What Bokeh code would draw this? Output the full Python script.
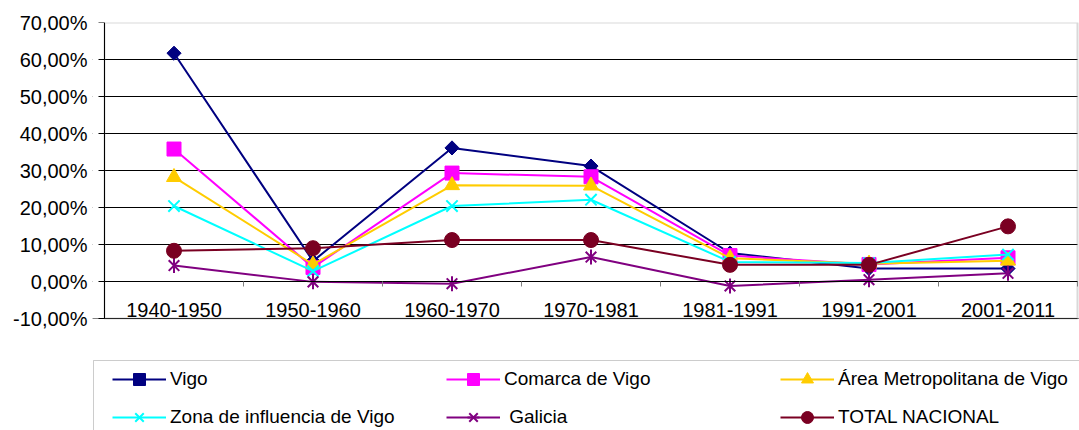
import numpy as np
from bokeh.plotting import figure
from bokeh.models import (Range1d, LinearAxis, FixedTicker, Legend, LegendItem,
                          BoxAnnotation)
from bokeh.embed import file_html
from bokeh.resources import INLINE

# ---------------- data ----------------
categories = ["1940-1950", "1950-1960", "1960-1970", "1970-1981",
              "1981-1991", "1991-2001", "2001-2011"]
vigo = [61.7, 5.5, 36.1, 31.2, 7.7, 3.5, 3.5]
comarca = [35.8, 3.8, 29.3, 28.3, 7.0, 4.6, 6.4]
area_metro = [28.2, 4.6, 26.0, 25.9, 6.3, 4.8, 5.6]
zona = [20.4, 2.8, 20.4, 22.1, 5.3, 5.0, 7.3]
galicia = [4.3, -0.1, -0.6, 6.6, -1.2, 0.5, 2.2]
total_nacional = [8.3, 9.0, 11.2, 11.2, 4.5, 4.5, 14.9]

series_names = ["Vigo", "Comarca de Vigo", "Área Metropolitana de Vigo",
                "Zona de influencia de Vigo", " Galicia", "TOTAL NACIONAL"]

y_ticks = [-10, 0, 10, 20, 30, 40, 50, 60, 70]
y_tick_labels = ["-10,00%", "0,00%", "10,00%", "20,00%", "30,00%",
                 "40,00%", "50,00%", "60,00%", "70,00%"]

FONT = "Liberation Sans"
NAVY = "#000080"
MAGENTA = "#FF00FF"
GOLD = "#FFCC00"
CYAN = "#00FFFF"
PURPLE = "#800080"
DARKRED = "#7A0022"

# ---------------- layout constants (pixels) ----------------
W, H = 1079, 430
FRAME_L, FRAME_R, FRAME_T, FRAME_B = 92, 1079, 22, 430
PLOT_L, PLOT_R, PLOT_T, PLOT_B = 104, 1077, 22, 318
Y_MIN, Y_MAX = y_ticks[0], y_ticks[-1]
N = len(categories)
XPX = (PLOT_R - PLOT_L) / N
YPX = (PLOT_B - PLOT_T) / (Y_MAX - Y_MIN)


def px_x(px):
    return (px - PLOT_L) / XPX


def px_y(py):
    return Y_MAX - (py - PLOT_T) / YPX


xs = [float(v) for v in (np.arange(N) + 0.5)]

p = figure(width=W, height=H,
           x_range=Range1d(px_x(FRAME_L), px_x(FRAME_R)),
           y_range=Range1d(px_y(FRAME_B), Y_MAX),
           output_backend="svg", toolbar_location=None,
           min_border_left=FRAME_L, min_border_right=W - FRAME_R,
           min_border_top=FRAME_T, min_border_bottom=H - FRAME_B)
p.outline_line_color = None
p.background_fill_color = "white"
p.border_fill_color = "white"

# y tick labels (left panel)
p.yaxis.ticker = FixedTicker(ticks=y_ticks)
p.yaxis.major_label_overrides = dict(zip(y_ticks, y_tick_labels))
p.yaxis.minor_tick_line_color = None
p.yaxis.major_tick_line_color = None
p.yaxis.major_tick_out = 0
p.yaxis.major_tick_in = 0
p.yaxis.axis_line_color = None
p.yaxis.major_label_standoff = PLOT_L - FRAME_L - 7
p.yaxis.major_label_text_font = FONT
p.yaxis.major_label_text_font_size = "20px"
p.yaxis.major_label_text_color = "black"

p.ygrid.grid_line_color = "black"
p.ygrid.grid_line_width = 1
p.xgrid.visible = False

# mask grid lines outside the plot area
p.add_layout(BoxAnnotation(left=px_x(FRAME_L), right=0, bottom=Y_MIN, top=Y_MAX,
                           fill_color="white", fill_alpha=1, line_color=None,
                           level="underlay"))
p.add_layout(BoxAnnotation(left=N, right=px_x(FRAME_R), bottom=Y_MIN, top=Y_MAX,
                           fill_color="white", fill_alpha=1, line_color=None,
                           level="underlay"))
# plot-area border
p.add_layout(BoxAnnotation(left=0, right=N, bottom=Y_MIN, top=Y_MAX,
                           fill_alpha=0, line_color="#808080", line_width=2,
                           level="underlay"))

# y axis line with ticks at x = 0
yline = LinearAxis(ticker=FixedTicker(ticks=y_ticks), fixed_location=0,
                   bounds=(Y_MIN, Y_MAX),
                   major_label_overrides={t: "" for t in y_ticks},
                   major_tick_out=6, major_tick_in=0,
                   minor_tick_line_color=None,
                   axis_line_color="black", major_tick_line_color="black")
p.add_layout(yline, "left")

# x axis: category labels hanging below the 0 % line
p.xaxis.fixed_location = 0
p.xaxis.bounds = (0, N)
p.xaxis.ticker = FixedTicker(ticks=xs)
p.xaxis.major_label_overrides = dict(zip(xs, categories))
p.xaxis.minor_tick_line_color = None
p.xaxis.major_tick_line_color = None
p.xaxis.major_tick_out = 0
p.xaxis.major_tick_in = 0
p.xaxis.major_label_standoff = 21
p.xaxis.axis_line_color = "black"
p.xaxis.major_label_text_font = FONT
p.xaxis.major_label_text_font_size = "20px"
p.xaxis.major_label_text_color = "black"

# tick marks on the category boundaries
bounds = list(range(N + 1))
bticks = LinearAxis(ticker=FixedTicker(ticks=bounds), fixed_location=0,
                    bounds=(0, N),
                    major_label_overrides={b: "" for b in bounds},
                    major_tick_out=5, major_tick_in=0,
                    minor_tick_line_color=None, axis_line_color=None,
                    major_tick_line_color="#808080")
p.add_layout(bticks, "below")

LW = 2


def draw(fig, xv, yv, color, kind):
    rs = [fig.line(xv, yv, line_color=color, line_width=LW)]
    if kind == "diamond":
        rs.append(fig.scatter(xv, yv, marker="square", angle=np.pi / 4, size=10,
                              fill_color=color, line_color=color))
    elif kind == "square":
        rs.append(fig.scatter(xv, yv, marker="square", size=14,
                              fill_color=color, line_color=color))
    elif kind == "triangle":
        rs.append(fig.scatter(xv, yv, marker="triangle", size=15,
                              fill_color=color, line_color=color))
    elif kind == "x":
        rs.append(fig.scatter(xv, yv, marker="x", size=16,
                              line_color=color, line_width=2))
    elif kind == "star":
        rs.append(fig.scatter(xv, yv, marker="x", size=15,
                              line_color=color, line_width=2))
        rs.append(fig.scatter(xv, yv, marker="dash", angle=np.pi / 2, size=15,
                              line_color=color, line_width=2))
    elif kind == "circle":
        rs.append(fig.scatter(xv, yv, marker="circle", size=15,
                              fill_color=color, line_color=color))
    return rs


spec = [
    (vigo, NAVY, "diamond"),
    (comarca, MAGENTA, "square"),
    (area_metro, GOLD, "triangle"),
    (zona, CYAN, "x"),
    (galicia, PURPLE, "star"),
    (total_nacional, DARKRED, "circle"),
]
items = []
for (vals, color, kind), name in zip(spec, series_names):
    rs = draw(p, xs, vals, color, kind)
    items.append(LegendItem(label=name, renderers=rs))

# legend frame (its right and bottom edges run off the page)
p.add_layout(BoxAnnotation(left=px_x(93), right=px_x(W + 30),
                           top=px_y(360), bottom=px_y(H + 30),
                           fill_color="white", fill_alpha=1,
                           line_color="#555555", line_width=1,
                           level="annotation"))

ROW_H = 30
ROW_GAP = 8
COL_PITCH = 334
GLYPH_W = 54
STANDOFF = 4
legend_top = 379 - ROW_H / 2
legend_bottom = legend_top + 2 * ROW_H + ROW_GAP
legend = Legend(items=items, orientation="horizontal", ncols=3,
                location=(112 - FRAME_L, FRAME_B - legend_bottom),
                glyph_width=GLYPH_W, glyph_height=ROW_H, label_height=ROW_H,
                label_width=COL_PITCH - GLYPH_W - STANDOFF - ROW_GAP,
                label_standoff=STANDOFF, spacing=ROW_GAP,
                padding=0, margin=0,
                border_line_color=None, background_fill_alpha=0,
                label_text_font=FONT, label_text_font_size="19px",
                label_text_color="black")
p.add_layout(legend)

open("out.html", "w").write(file_html(p, INLINE))
